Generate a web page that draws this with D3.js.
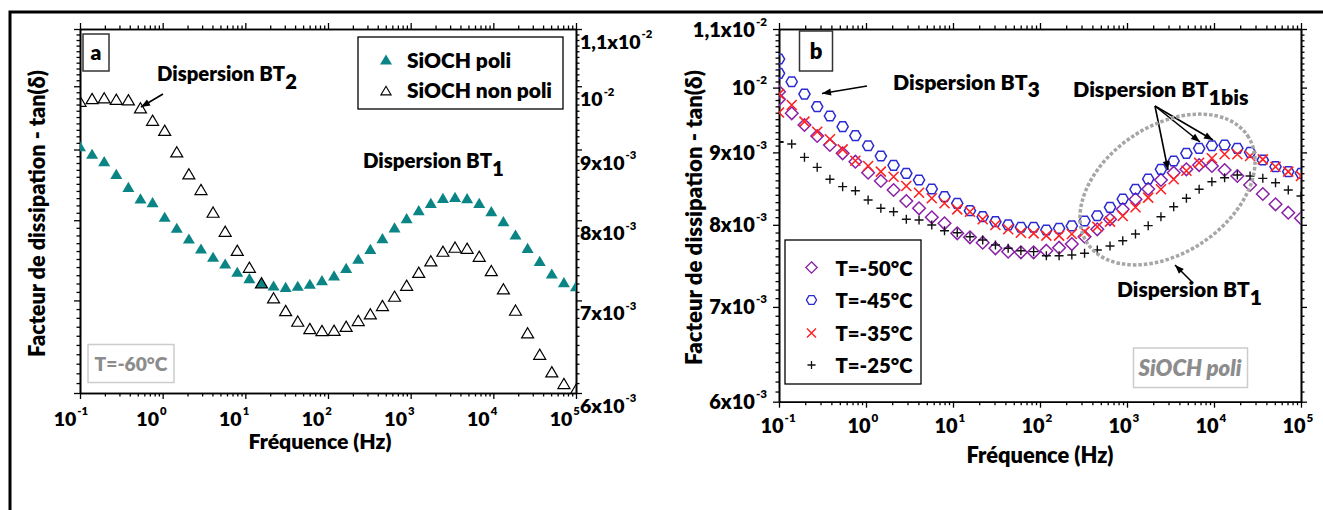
<!DOCTYPE html>
<html><head><meta charset="utf-8">
<script src="https://cdn.jsdelivr.net/npm/d3@7"></script>
<style>
body{margin:0;background:#fff;}
svg{display:block;font-family:Lato,"Open Sans",sans-serif;font-weight:800;}
</style></head><body>
<svg id="chart" width="1323" height="510"></svg>
<script>
// ---------------- DATA ----------------
const freqA = [0.1,0.14,0.1962,0.2748,0.3849,0.5391,0.7551,1.0577,1.4815,2.0752,2.9068,4.0718,5.703,7.9878,11.189,15.672,21.95,30.746,43.066,60.322,84.492,118.35,165.77,232.19,325.22,455.53,638.05,893.7,1251.8,1753.4,2455.9,3440,4818,6749,9454,13242,18548,25980,36390,50971,71394,100000];
const tanPoli = [0.009042,0.008929,0.008820,0.008636,0.008451,0.008289,0.008237,0.008040,0.007894,0.007754,0.007626,0.007522,0.007438,0.007336,0.007258,0.007203,0.007170,0.007154,0.007167,0.007191,0.007234,0.007291,0.007385,0.007497,0.007622,0.007758,0.007898,0.008021,0.008128,0.008229,0.008298,0.008311,0.008292,0.008229,0.008115,0.007981,0.007806,0.007635,0.007471,0.007315,0.007210,0.007162];
const tanNonPoli = [0.009746,0.009790,0.009801,0.009778,0.009769,0.009639,0.009442,0.009286,0.008958,0.008636,0.008414,0.008102,0.007849,0.007604,0.007392,0.007203,0.007025,0.006878,0.006757,0.006675,0.006653,0.006656,0.006700,0.006765,0.006840,0.006936,0.007044,0.007174,0.007330,0.007471,0.007592,0.007643,0.007630,0.007529,0.007351,0.007131,0.006882,0.006627,0.006395,0.006211,0.006091,0.006030];

const freqB = [0.1,0.1,0.14,0.1962,0.2748,0.3849,0.5391,0.7551,1.0577,1.4815,2.0752,2.9068,4.0718,5.703,7.9878,11.189,15.672,21.95,30.746,43.066,60.322,84.492,118.35,165.77,232.19,325.22,455.53,638.05,893.7,1251.8,1753.4,2455.9,3440,4818,6749,9454,13242,18548,25980,36390,50971,71394,100000];
const tanT50 = [0.009934,0.009812,0.009591,0.009410,0.009243,0.009109,0.008987,0.008865,0.008708,0.008591,0.008466,0.008316,0.008218,0.008098,0.008020,0.007890,0.007839,0.007771,0.007700,0.007658,0.007650,0.007650,0.007670,0.007708,0.007754,0.007847,0.007942,0.008072,0.008204,0.008339,0.008480,0.008605,0.008708,0.008756,0.008817,0.008803,0.008746,0.008661,0.008535,0.008411,0.008271,0.008159,0.008085];
const tanT45 = [0.010476,0.010235,0.010096,0.009896,0.009694,0.009549,0.009384,0.009248,0.009098,0.008947,0.008813,0.008699,0.008605,0.008480,0.008374,0.008285,0.008186,0.008106,0.008041,0.007998,0.007968,0.007968,0.007933,0.007955,0.007985,0.008050,0.008119,0.008231,0.008343,0.008476,0.008619,0.008756,0.008875,0.008987,0.009060,0.009098,0.009109,0.009060,0.009001,0.008889,0.008793,0.008722,0.008699];
const tanT35 = [0.009896,0.009603,0.009721,0.009461,0.009308,0.009194,0.009045,0.008879,0.008803,0.008722,0.008651,0.008521,0.008429,0.008353,0.008285,0.008204,0.008172,0.008072,0.007998,0.007942,0.007898,0.007890,0.007860,0.007860,0.007881,0.007911,0.007975,0.008041,0.008115,0.008231,0.008361,0.008476,0.008615,0.008736,0.008850,0.008914,0.008972,0.008972,0.008947,0.008899,0.008793,0.008722,0.008661];
const tanT25 = [0.009158,0.009150,0.009124,0.008928,0.008784,0.008615,0.008512,0.008456,0.008330,0.008218,0.008172,0.008072,0.008063,0.007998,0.007924,0.007898,0.007847,0.007805,0.007742,0.007700,0.007670,0.007658,0.007608,0.007608,0.007617,0.007638,0.007679,0.007729,0.007796,0.007881,0.007989,0.008106,0.008239,0.008353,0.008476,0.008581,0.008637,0.008675,0.008661,0.008628,0.008567,0.008466,0.008384];

const xTickValues = [0.1,1,10,100,1000,10000,100000];
const xTickExponents = ["-1","0","1","2","3","4","5"];
const yTickValues = [0.006,0.007,0.008,0.009,0.01,0.011];
const yTickMantissas = ["6x10","7x10","8x10","9x10","10","1,1x10"];
const yTickExponents = ["-3","-3","-3","-3","-2","-2"];
const legendA = ["SiOCH poli","SiOCH non poli"];
const legendB = ["T=-50°C","T=-45°C","T=-35°C","T=-25°C"];

// ---------------- HELPERS ----------------
const svg = d3.select("#chart");
svg.append("path").attr("d","M10,510 V12 H1323").attr("fill","none").attr("stroke","#000").attr("stroke-width",3);

const xMinor = [];
for (let k=-1;k<5;k++) for (let m=2;m<10;m++) xMinor.push(m*Math.pow(10,k));
const yMinor = d3.range(61,110).map(v=>v/10000).filter(v=>!yTickValues.some(t=>Math.abs(t-v)<1e-9));

function fit(sel, w){
  const cur = sel.node().getComputedTextLength();
  const fs = parseFloat(sel.style("font-size"));
  sel.style("font-size", (fs*w/cur)+"px");
  return sel;
}
function rich(g, x, y, parts, fs, anchor){
  const t = g.append("text").attr("x",x).attr("y",y).attr("text-anchor",anchor||"start").style("font-size",fs+"px");
  parts.forEach(p=>{ const s=t.append("tspan").text(p.t); if(p.dy) s.attr("dy",p.dy); });
  return t;
}
function arrow(g, x1,y1,x2,y2){
  g.append("line").attr("x1",x1).attr("y1",y1).attr("x2",x2).attr("y2",y2).attr("stroke","#000").attr("stroke-width",1.6);
  const a=Math.atan2(y2-y1,x2-x1), L=9, Wd=3.5;
  const bx=x2-L*Math.cos(a), by=y2-L*Math.sin(a);
  g.append("path").attr("d",`M${x2},${y2}L${bx-Wd*Math.sin(a)},${by+Wd*Math.cos(a)}L${bx+Wd*Math.sin(a)},${by-Wd*Math.cos(a)}Z`).attr("fill","#000");
}

function makePanel(c){
  const x = d3.scaleLog().domain([0.1,1e5]).range([c.l,c.r]);
  const y = d3.scaleLog().domain([0.006,0.011]).range([c.b,c.t]);
  const g = svg.append("g");
  const ax = (gen, tr) => g.append("g").attr("transform",tr).call(gen)
     .call(s=>s.select(".domain").attr("stroke","#000").attr("stroke-width",1.6))
     .call(s=>s.selectAll(".tick line").attr("stroke","#000").attr("stroke-width",1.3));
  ax(d3.axisBottom(x).tickValues(xTickValues).tickSize(6).tickSizeOuter(0).tickFormat(""), `translate(0,${c.b})`);
  ax(d3.axisBottom(x).tickValues(xMinor).tickSize(3.5).tickSizeOuter(0).tickFormat(""), `translate(0,${c.b})`);
  ax(d3.axisTop(x).tickValues(xTickValues).tickSize(6).tickSizeOuter(0).tickFormat(""), `translate(0,${c.t})`);
  ax(d3.axisTop(x).tickValues(xMinor).tickSize(3.5).tickSizeOuter(0).tickFormat(""), `translate(0,${c.t})`);
  ax(d3.axisLeft(y).tickValues(yTickValues).tickSize(6).tickSizeOuter(0).tickFormat(""), `translate(${c.l},0)`);
  ax(d3.axisLeft(y).tickValues(yMinor).tickSize(3.5).tickSizeOuter(0).tickFormat(""), `translate(${c.l},0)`);
  ax(d3.axisRight(y).tickValues(yTickValues).tickSize(6).tickSizeOuter(0).tickFormat(""), `translate(${c.r},0)`);
  ax(d3.axisRight(y).tickValues(yMinor).tickSize(3.5).tickSizeOuter(0).tickFormat(""), `translate(${c.r},0)`);

  xTickValues.forEach((v,i)=>{
    const cx = x(v)+c.xLabDx;
    const t = g.append("text").attr("x",cx).attr("y",c.xLabY).attr("text-anchor","middle").style("font-size",c.tickFs+"px").text("10");
    const w = t.node().getComputedTextLength();
    g.append("text").attr("x",cx+w/2+1).attr("y",c.xLabY-c.tickFs*0.55).style("font-size",(c.tickFs*0.58)+"px").text(xTickExponents[i]);
  });
  yTickValues.forEach((v,i)=>{
    const by = y(v)+c.yLabDy;
    if (c.yLabSide==="right"){
      const t = g.append("text").attr("x",c.r+4).attr("y",by).style("font-size",c.tickFs+"px").text(yTickMantissas[i]);
      const w = t.node().getComputedTextLength();
      g.append("text").attr("x",c.r+4+w+1).attr("y",by-c.tickFs*0.55).style("font-size",(c.tickFs*0.58)+"px").text(yTickExponents[i]);
    } else {
      const e = g.append("text").attr("x",c.l-12).attr("y",by-c.tickFs*0.55).attr("text-anchor","end").style("font-size",(c.tickFs*0.58)+"px").text(yTickExponents[i]);
      const we = e.node().getComputedTextLength();
      g.append("text").attr("x",c.l-12-we-1).attr("y",by).attr("text-anchor","end").style("font-size",c.tickFs+"px").text(yTickMantissas[i]);
    }
  });
  const clipId = "clip"+c.id;
  svg.append("clipPath").attr("id",clipId).append("rect").attr("x",c.l).attr("y",c.t).attr("width",c.r-c.l).attr("height",c.b-c.t);
  const plot = g.append("g").attr("clip-path",`url(#${clipId})`);
  return {x,y,g,plot};
}

const triPath = "M0,-5.6L6,4.6L-6,4.6Z";
const diaPath = "M0,-6.3L6.3,0L0,6.3L-6.3,0Z";
const hexPath = (()=>{const r=5.6;return "M"+d3.range(6).map(i=>{const a=i*Math.PI/3;return [r*Math.cos(a),r*Math.sin(a)].join(",");}).join("L")+"Z";})();
const xPath = "M-5,-5L5,5M-5,5L5,-5";
const plusPath = "M-4.5,0H4.5M0,-4.5V4.5";

// ---------------- PANEL A ----------------
const A = makePanel({id:"A",l:80,r:576,t:29,b:393,xLabDx:-15,xLabY:425.5,yLabSide:"right",yLabDy:20,tickFs:19.5});
const dataPoli = freqA.map((f,i)=>({f,v:tanPoli[i]}));
const dataNon = freqA.map((f,i)=>({f,v:tanNonPoli[i]}));
A.plot.selectAll(".p").data(dataPoli).join("path").attr("d",triPath)
  .attr("transform",d=>`translate(${A.x(d.f)},${A.y(d.v)})`).attr("fill","#0a8484");
A.plot.selectAll(".n").data(dataNon).join("path").attr("d",triPath)
  .attr("transform",d=>`translate(${A.x(d.f)},${A.y(d.v)})`).attr("fill","none").attr("stroke","#000").attr("stroke-width",1.2);

A.g.append("rect").attr("x",83).attr("y",34).attr("width",26).attr("height",37).attr("fill","#fff").attr("stroke","#333").attr("stroke-width",1.5);
A.g.append("text").attr("x",96).attr("y",60).attr("text-anchor","middle").style("font-size","21px").text("a");
fit(rich(A.g,157,81,[{t:"Dispersion BT"},{t:"2",dy:"0.4em"}],20),140);
arrow(A.g,163,94,141,107);
fit(rich(A.g,363,168,[{t:"Dispersion BT"},{t:"1",dy:"0.4em"}],20),141);
A.g.append("rect").attr("x",358).attr("y",37).attr("width",205).attr("height",72).attr("fill","#fff").attr("stroke","#000").attr("stroke-width",1.3);
A.g.append("path").attr("d",triPath).attr("transform","translate(386,60)").attr("fill","#0a8484");
A.g.append("path").attr("d",triPath).attr("transform","translate(386,91) scale(0.85)").attr("fill","none").attr("stroke","#000").attr("stroke-width",1.3);
const la2 = fit(A.g.append("text").attr("x",407).attr("y",98).style("font-size","20px").text(legendA[1]),145);
A.g.append("text").attr("x",407).attr("y",67.5).style("font-size",la2.style("font-size")).text(legendA[0]);
A.g.append("rect").attr("x",88).attr("y",344.5).attr("width",86).attr("height",38).attr("fill","#fff").attr("stroke","#ccc").attr("stroke-width",1.5);
fit(A.g.append("text").attr("x",131).attr("y",371).attr("text-anchor","middle").attr("fill","#8c8c8c").style("font-size","20px").text("T=-60°C"),73);
fit(A.g.append("text").attr("x",320).attr("y",448.5).attr("text-anchor","middle").style("font-size","18px").text("Fréquence (Hz)"),143);
fit(A.g.append("text").attr("transform","translate(45,213.5) rotate(-90)").attr("text-anchor","middle").style("font-size","20px").text("Facteur de dissipation - tan(δ)"),287);

// ---------------- PANEL B ----------------
const B = makePanel({id:"B",l:779,r:1301,t:29,b:401.7,xLabDx:-7,xLabY:433,yLabSide:"left",yLabDy:7.5,tickFs:20});
const seriesB = [
  {name:legendB[0], vals:tanT50, path:diaPath, color:"#8a22a8", fill:"none", sw:1.5},
  {name:legendB[1], vals:tanT45, path:hexPath, color:"#2a2ad0", fill:"none", sw:1.5},
  {name:legendB[2], vals:tanT35, path:xPath, color:"#ff2222", fill:"none", sw:1.6},
  {name:legendB[3], vals:tanT25, path:plusPath, color:"#111", fill:"none", sw:1.4}
];
seriesB.forEach((s,si)=>{
  B.plot.selectAll(".s"+si).data(freqB.map((f,i)=>({f,v:s.vals[i]}))).join("path").attr("d",s.path)
   .attr("transform",d=>`translate(${B.x(d.f)},${B.y(d.v)})`).attr("fill",s.fill).attr("stroke",s.color).attr("stroke-width",s.sw);
});
B.g.append("rect").attr("x",799.5).attr("y",31).attr("width",33).attr("height",40).attr("fill","#fff").attr("stroke","#333").attr("stroke-width",1.5);
B.g.append("text").attr("x",816).attr("y",59).attr("text-anchor","middle").style("font-size","22px").text("b");
fit(rich(B.g,893,90,[{t:"Dispersion BT"},{t:"3",dy:"0.35em"}],22),147);
arrow(B.g,867,86,822,93.5);
fit(rich(B.g,1073,96.5,[{t:"Dispersion BT"},{t:"1bis",dy:"0.42em"}],22),175.6);
arrow(B.g,1155,106,1168,170);
arrow(B.g,1155,106,1200,142);
arrow(B.g,1155,106,1213,140);
B.g.append("ellipse").attr("transform","translate(1167.5,189.5) rotate(-34)").attr("rx",96.5).attr("ry",63.5)
  .attr("fill","none").attr("stroke","#a6a6a6").attr("stroke-width",3.5).attr("stroke-dasharray","3.5,2");
fit(rich(B.g,1117,296.5,[{t:"Dispersion BT"},{t:"1",dy:"0.42em"}],22),145);
arrow(B.g,1193,283,1175,265);
B.g.append("rect").attr("x",1133.5).attr("y",348).attr("width",114).attr("height",39.5).attr("fill","#fff").attr("stroke","#ccc").attr("stroke-width",1.5);
fit(B.g.append("text").attr("x",1190).attr("y",376).attr("text-anchor","middle").attr("fill","#8c8c8c").style("font-style","italic").style("font-size","20px").text("SiOCH poli"),103);
B.g.append("rect").attr("x",785).attr("y",240).attr("width",136).attr("height",144).attr("fill","#fff").attr("stroke","#000").attr("stroke-width",1.3);
const legYs = [267.5,300,333,365];
let legFs = null;
seriesB.forEach((s,i)=>{
  B.g.append("path").attr("d",s.path).attr("transform",`translate(811.5,${legYs[i]}) scale(0.9)`).attr("fill","none").attr("stroke",s.color).attr("stroke-width",s.sw);
  const t = B.g.append("text").attr("x",835.5).attr("y",legYs[i]+8).style("font-size",(legFs||22)+"px").text(s.name);
  if(!legFs){ fit(t,77); legFs = parseFloat(t.style("font-size")); }
});
fit(B.g.append("text").attr("x",1040).attr("y",463).attr("text-anchor","middle").style("font-size","18px").text("Fréquence (Hz)"),147);
fit(B.g.append("text").attr("transform","translate(701.5,217.5) rotate(-90)").attr("text-anchor","middle").style("font-size","20px").text("Facteur de dissipation - tan(δ)"),295);
</script>
</body></html>
